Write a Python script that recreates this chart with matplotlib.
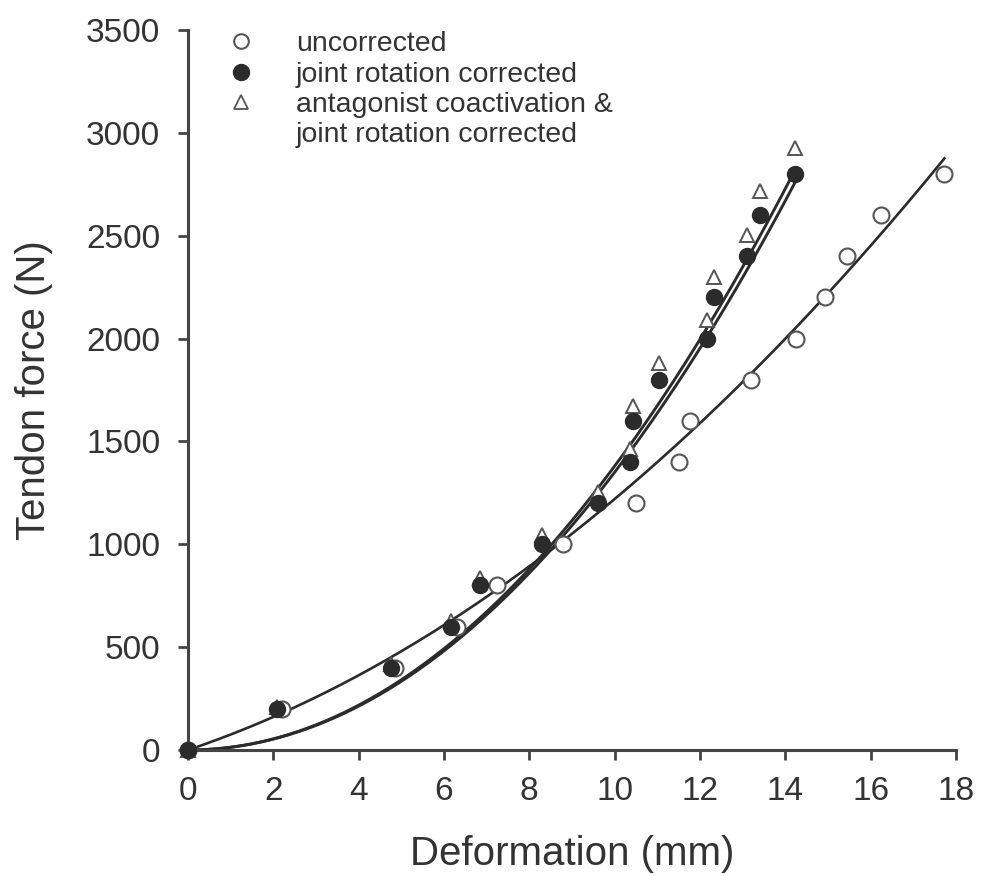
import numpy as np
import matplotlib.pyplot as plt
from matplotlib.lines import Line2D

plt.rcParams['font.family'] = ['Liberation Sans', 'DejaVu Sans']

# tendon force levels (N) and deformation (mm) for each condition
force = [0, 200, 400, 600, 800, 1000, 1200, 1400, 1600, 1800, 2000, 2200, 2400, 2600, 2800]
def_uncorr = [0, 2.2, 4.85, 6.3, 7.24, 8.8, 10.5, 11.52, 11.76, 13.19, 14.26, 14.92, 15.45, 16.25, 17.73]
def_joint = [0, 2.08, 4.75, 6.16, 6.84, 8.29, 9.6, 10.35, 10.42, 11.05, 12.17, 12.33, 13.11, 13.4, 14.22]
force_antag = [0, 209, 418, 627, 836, 1045, 1254, 1463, 1672, 1881, 2090, 2299, 2505, 2717, 2925]

# polynomial fits, coefficients for x, x^2, x^3
fit_uncorr = [70.0, 5.2, 0.0]
fit_joint = [0.0, 13.2, 0.03]
fit_antag = [0.0, 13.5, 0.03]

ink = '#2b2b2b'
txt = '#333333'


def poly(c, x):
    return c[0] * x + c[1] * x ** 2 + c[2] * x ** 3


fig = plt.figure(figsize=(9.84, 8.76), dpi=100)
ax = fig.add_axes([0.191, 0.1438, 0.7805, 0.822])

xu = np.linspace(0, max(def_uncorr), 200)
xj = np.linspace(0, max(def_joint), 200)
ax.plot(xu, poly(fit_uncorr, xu), color=ink, lw=1.9, zorder=2)
ax.plot(xj, poly(fit_joint, xj), color=ink, lw=2.1, zorder=2)
ax.plot(xj, poly(fit_antag, xj), color=ink, lw=2.1, zorder=2)

ms = 11.5
ax.plot(def_joint, force_antag, ls='none', marker='^', ms=ms * 0.9, mfc='white',
        mec='#555555', mew=1.4, clip_on=False, zorder=3)
ax.plot(def_uncorr, force, ls='none', marker='o', ms=ms, mfc='white',
        mec='#555555', mew=1.5, clip_on=False, zorder=3)
ax.plot(def_joint, force, ls='none', marker='o', ms=ms, mfc=ink,
        mec=ink, mew=1.0, clip_on=False, zorder=4)

ax.set_xlim(0, 18)
ax.set_ylim(0, 3500)
ax.set_xticks(np.arange(0, 19, 2))
ax.set_yticks(np.arange(0, 3501, 500))
for s in ['top', 'right']:
    ax.spines[s].set_visible(False)
for s in ['left', 'bottom']:
    ax.spines[s].set_linewidth(2.2)
    ax.spines[s].set_color('#444444')
ax.tick_params(direction='out', length=7, width=2, color='#444444',
               labelsize=24, labelcolor=txt, pad=13)
ax.tick_params(axis='x', pad=12)

ax.set_xlabel('Deformation (mm)', fontsize=29, color=txt, labelpad=20)
ax.set_ylabel('Tendon force (N)', fontsize=29, color=txt, labelpad=24)

handles = [
    Line2D([], [], ls='none', marker='o', ms=10.5, mfc='white', mec='#555555', mew=1.5),
    Line2D([], [], ls='none', marker='o', ms=11.5, mfc=ink, mec=ink),
    Line2D([], [], ls='none', marker='^', ms=10.5, mfc='white', mec='#555555', mew=1.3),
    Line2D([], [], ls='none'),
]
labels = ['uncorrected', 'joint rotation corrected',
          'antagonist coactivation &', 'joint rotation corrected']
leg = ax.legend(handles, labels, loc='upper left', bbox_to_anchor=(0.05, 0.998),
                frameon=False, fontsize=20.5, handlelength=1.0, handletextpad=1.45,
                borderpad=0, borderaxespad=0, labelspacing=0.15)
for t in leg.get_texts():
    t.set_color(txt)

fig.savefig('out.png', dpi=100)
